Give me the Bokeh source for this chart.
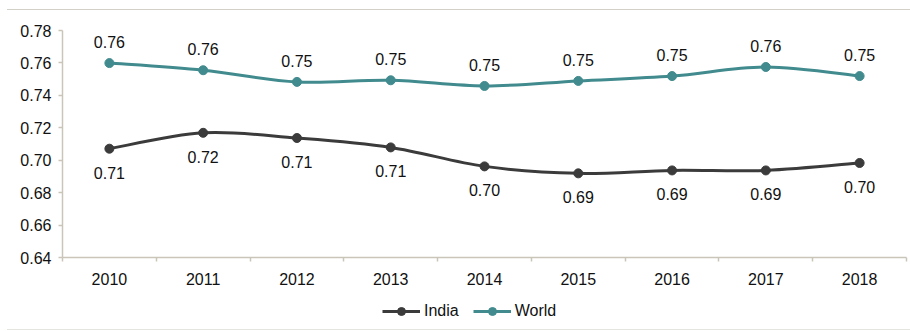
from bokeh.plotting import figure
from bokeh.models import (FixedTicker, Range1d, Legend, LegendItem, ColumnDataSource,
                          Div, NumeralTickFormatter)
from bokeh.layouts import column
from bokeh.embed import file_html
from bokeh.resources import INLINE
from bokeh.core.properties import value

years = ["2010", "2011", "2012", "2013", "2014", "2015", "2016", "2017", "2018"]
india = [0.7071, 0.7169, 0.7137, 0.7079, 0.6962, 0.6919, 0.6937, 0.6937, 0.6983]
world = [0.7599, 0.7555, 0.7483, 0.7493, 0.7458, 0.7489, 0.7519, 0.7575, 0.7519]
y_ticks = [0.64, 0.66, 0.68, 0.70, 0.72, 0.74, 0.76, 0.78]
series = [("India", india, "#3b3b3b", 24), ("World", world, "#418b8e", -21)]

AXIS_COLOR = "#c9c5b9"
FONT = "Liberation Sans"
FS = "16px"

# category centres on a numeric axis so ticks can sit between categories
xs = [i + 0.5 for i in range(len(years))]


def smooth_segments(x, y):
    """Cubic bezier pieces through the points (Catmull-Rom style smoothing)."""
    n = len(x)
    seg = dict(x0=[], y0=[], x1=[], y1=[], cx0=[], cy0=[], cx1=[], cy1=[])
    for i in range(n - 1):
        a = i - 1 if i > 0 else i
        b = i + 2 if i + 2 < n else i + 1
        seg["x0"].append(x[i]); seg["y0"].append(y[i])
        seg["x1"].append(x[i + 1]); seg["y1"].append(y[i + 1])
        seg["cx0"].append(x[i] + (x[i + 1] - x[a]) / 6)
        seg["cy0"].append(y[i] + (y[i + 1] - y[a]) / 6)
        seg["cx1"].append(x[i + 1] - (x[b] - x[i]) / 6)
        seg["cy1"].append(y[i + 1] - (y[b] - y[i]) / 6)
    return ColumnDataSource(seg)


p = figure(width=910, height=281, output_backend="svg", toolbar_location=None,
           x_range=Range1d(0, len(years)), y_range=Range1d(0.64, 0.78),
           min_border_left=62, min_border_right=4, min_border_top=20,
           min_border_bottom=34, outline_line_color=None)
p.xgrid.visible = False
p.ygrid.visible = False

# x axis: labels at category centres, small ticks at category boundaries
p.xaxis.ticker = FixedTicker(ticks=xs, minor_ticks=list(range(len(years) + 1)))
p.xaxis.major_label_overrides = {x: y for x, y in zip(xs, years)}
p.xaxis.major_tick_line_color = None
p.xaxis.minor_tick_line_color = AXIS_COLOR
p.xaxis.minor_tick_out = 4
p.xaxis.minor_tick_in = 0
p.xaxis.major_label_standoff = 9

p.yaxis.ticker = FixedTicker(ticks=y_ticks)
p.yaxis.formatter = NumeralTickFormatter(format="0.00")
p.yaxis.major_tick_line_color = AXIS_COLOR
p.yaxis.major_tick_out = 4
p.yaxis.major_tick_in = 0
p.yaxis.minor_tick_line_color = None
p.yaxis.major_label_standoff = 7

for ax in (p.xaxis, p.yaxis):
    ax.axis_line_color = AXIS_COLOR
    ax.axis_line_width = 1.5
    ax.major_tick_line_width = 1.5
    ax.minor_tick_line_width = 1.5
    ax.major_label_text_font = FONT
    ax.major_label_text_font_size = FS
    ax.major_label_text_color = "#111111"

for name, vals, color, dy in series:
    seg = smooth_segments(xs, vals)
    p.bezier(x0="x0", y0="y0", x1="x1", y1="y1", cx0="cx0", cy0="cy0",
             cx1="cx1", cy1="cy1", source=seg, line_color=color, line_width=3)
    src = ColumnDataSource(dict(x=xs, y=vals, lbl=[f"{v:.2f}" for v in vals]))
    p.scatter(x="x", y="y", source=src, size=9, fill_color=color, line_color=color)
    p.text(x="x", y="y", text="lbl", source=src, y_offset=dy, text_align="center",
           text_baseline="middle", text_font=value(FONT), text_font_size=FS,
           text_color="#111111")

# legend strip under the chart
lg = figure(width=910, height=38, output_backend="svg", toolbar_location=None,
            x_range=Range1d(0, 1), y_range=Range1d(0, 1), min_border=0,
            outline_line_color=None, x_axis_type=None, y_axis_type=None)
lg.xgrid.visible = False
lg.ygrid.visible = False
legend_items = []
for name, vals, color, dy in series:
    sw_line = lg.line(x=[float("nan")], y=[float("nan")], line_color=color, line_width=3)
    sw_dot = lg.scatter(x=[float("nan")], y=[float("nan")], size=9,
                        fill_color=color, line_color=color)
    legend_items.append(LegendItem(label=name, renderers=[sw_line, sw_dot]))

legend = Legend(items=legend_items, orientation="horizontal", location=(320, 8),
                glyph_width=38, glyph_height=20, label_standoff=4, spacing=14,
                padding=0, margin=0, border_line_color=None, background_fill_alpha=0,
                label_text_font=FONT, label_text_font_size=FS, label_text_color="#111111")
lg.add_layout(legend, "center")

top_rule = Div(text="", width=903, height=9, margin=(0, 0, 0, 7),
               styles={"border-bottom": "1.5px solid #d3d0c8", "box-sizing": "content-box"})
bottom_rule = Div(text="", width=903, height=1, margin=(0, 0, 0, 7),
                  styles={"border-top": "1px solid #e6e4de"})

page = column(top_rule, p, lg, bottom_rule, spacing=0)
open("out.html", "w").write(file_html(page, INLINE))
